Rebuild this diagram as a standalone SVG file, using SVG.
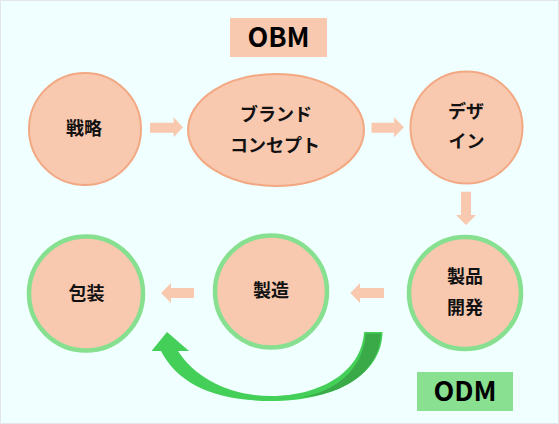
<svg xmlns="http://www.w3.org/2000/svg" width="559" height="424" viewBox="0 0 559 424">
<style>
.n{fill:#F8C8AF;stroke:#F2A983;stroke-width:2}
.g{fill:#F8C8AF;stroke:#86E090;stroke-width:4.5}
.t{font-family:"Noto Sans CJK JP","Noto Sans",sans-serif;font-weight:bold;font-size:18px;fill:#111;text-anchor:middle}
.lb{font-family:"Noto Sans CJK JP","Noto Sans",sans-serif;font-weight:bold;font-size:27px;fill:#000;text-anchor:middle}
.a{fill:#F8C8AF}
</style>
<rect x="0.5" y="0.5" width="558" height="423" fill="#F0FFFF" stroke="#E2E6E6"/>
<g id="obm"><rect x="230" y="18" width="97" height="39" fill="#F8C8AF"/><text class="lb" x="278.5" y="47">OBM</text></g>
<g id="odm"><rect x="417" y="372" width="96" height="39" fill="#88E090"/><text class="lb" x="465" y="401">ODM</text></g>
<g id="senryaku"><circle class="n" cx="85" cy="129" r="56"/><text class="t" x="84" y="134.5">戦略</text></g>
<g id="brand"><ellipse class="n" cx="276" cy="130" rx="88" ry="56"/><text class="t" x="276" y="121">ブランド</text><text class="t" x="275" y="152">コンセプト</text></g>
<g id="design"><circle class="n" cx="466.5" cy="127.5" r="56"/><text class="t" x="466" y="117.5">デザ</text><text class="t" x="466.5" y="148">イン</text></g>
<g id="kaihatsu"><circle class="g" cx="465" cy="293" r="56"/><text class="t" x="465" y="283">製品</text><text class="t" x="465" y="313.5">開発</text></g>
<g id="seizo"><circle class="g" cx="271" cy="291.5" r="56"/><text class="t" x="271" y="297">製造</text></g>
<g id="hoso"><circle class="g" cx="86" cy="293.5" r="57"/><text class="t" x="86.5" y="300">包装</text></g>
<g id="connectors">
<polygon class="a" points="150,122.7 173.6,122.7 173.6,117.3 183,127.3 173.6,137.3 173.6,132.7 150,132.7"/>
<polygon class="a" points="371.5,122.7 394,122.7 394,117.3 404,127.3 394,137.3 394,132.7 371.5,132.7"/>
<polygon class="a" points="461,191.7 471,191.7 471,215 476,215 466,225 456,215 461,215"/>
<polygon class="a" points="384,288 360,288 360,283 350.4,293 360,303 360,298 384,298"/>
<polygon class="a" points="194,288 171,288 171,283 161,293 171,303 171,298 194,298"/>
<path fill="#44D058" d="M382.5 332 C382 372 340 401 271 401 C215 401 178 384 161 351 L151.5 351 L167 332 L189 351 L178 351 C195 378 230 396 271 396 C320 396 362 372 364 332 Z"/>
<path fill="#3AAA48" d="M365.8 333.5 L380.8 333.5 C380 370 345 395 300 397.5 C335 392 363 370 365.8 333.5 Z"/>
</g>
</svg>
